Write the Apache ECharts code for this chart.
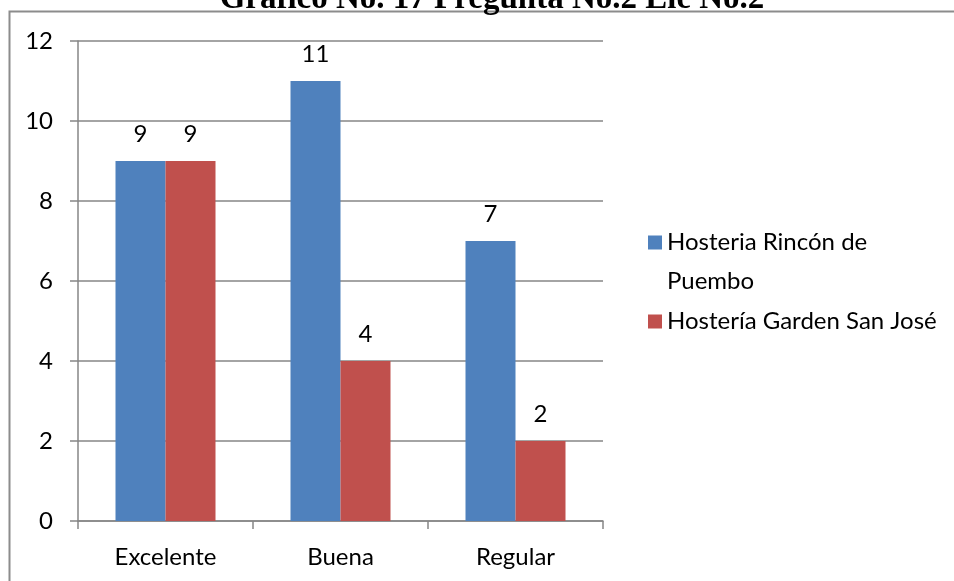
<!DOCTYPE html>
<html>
<head>
<meta charset="utf-8">
<script src="https://cdn.jsdelivr.net/npm/echarts@6/dist/echarts.min.js"></script>
<style>
  html, body { margin: 0; padding: 0; background: #fff; }
  #chart { width: 954px; height: 581px; }
</style>
</head>
<body>
<div id="chart"></div>
<script>
// Survey answers per rating, for each hostería
const categories = ['Excelente', 'Buena', 'Regular'];
const rinconPuembo = [9, 11, 7];
const gardenSanJose = [9, 4, 2];
const seriesNames = ['Hosteria Rincón de Puembo', 'Hostería Garden San José'];
const yTicks = { min: 0, max: 12, interval: 2 };

const FONT = 'Lato, "Open Sans", sans-serif';
const FONT_SIZE = 24;
const AXIS_GRAY = '#868686';

const chart = echarts.init(document.getElementById('chart'));

const labelStyle = {
  show: true,
  position: 'top',
  distance: 15,
  fontFamily: FONT,
  fontSize: FONT_SIZE,
  color: '#000'
};

const legendText = { fontFamily: FONT, fontSize: FONT_SIZE, color: '#000', lineHeight: 39 };

chart.setOption({
  animation: false,
  graphic: [
    {
      type: 'rect',
      shape: { x: 9.5, y: 11.5, width: 1000, height: 700 },
      style: { fill: 'none', stroke: '#8c8c8c', lineWidth: 2 },
      silent: true
    },
    {
      type: 'text',
      style: {
        x: 492,
        y: 16,
        text: 'Gráfico No. 17 Pregunta No.2 Ele No.2',
        font: 'bold 33px "Liberation Serif", "DejaVu Serif", serif',
        fill: '#000',
        align: 'center',
        verticalAlign: 'bottom'
      },
      silent: true
    }
  ],
  grid: { left: 78, right: 351, top: 41, bottom: 60, containLabel: false },
  legend: [
    {
      // the name wraps onto two lines; a blank leading line keeps the
      // swatch level with the first line of text
      orient: 'vertical',
      left: 648,
      top: 184,
      padding: 0,
      itemWidth: 14,
      itemHeight: 14,
      icon: 'rect',
      data: [seriesNames[0]],
      formatter: () => '\u00a0\nHosteria Rincón de\nPuembo',
      textStyle: legendText
    },
    {
      orient: 'vertical',
      left: 648,
      top: 302,
      padding: 0,
      itemWidth: 14,
      itemHeight: 14,
      icon: 'rect',
      data: [seriesNames[1]],
      textStyle: legendText
    }
  ],
  xAxis: {
    type: 'category',
    data: categories,
    axisLine: { lineStyle: { color: AXIS_GRAY, width: 1.5 } },
    axisTick: { show: true, length: 8, lineStyle: { color: AXIS_GRAY, width: 1.5 } },
    axisLabel: { fontFamily: FONT, fontSize: FONT_SIZE, color: '#000', margin: 24 }
  },
  yAxis: {
    type: 'value',
    min: yTicks.min,
    max: yTicks.max,
    interval: yTicks.interval,
    axisLine: { show: true, lineStyle: { color: AXIS_GRAY, width: 1.5 } },
    axisTick: { show: true, length: 8, lineStyle: { color: AXIS_GRAY, width: 1.5 } },
    splitLine: { show: true, lineStyle: { color: AXIS_GRAY, width: 1.5 } },
    axisLabel: { fontFamily: FONT, fontSize: FONT_SIZE, color: '#000', margin: 25 }
  },
  series: [
    {
      name: seriesNames[0],
      type: 'bar',
      data: rinconPuembo,
      barWidth: 50,
      barGap: '0%',
      itemStyle: { color: '#4F81BD' },
      label: labelStyle
    },
    {
      name: seriesNames[1],
      type: 'bar',
      data: gardenSanJose,
      barWidth: 50,
      barGap: '0%',
      itemStyle: { color: '#C0504D' },
      label: labelStyle
    }
  ]
});
</script>
</body>
</html>
